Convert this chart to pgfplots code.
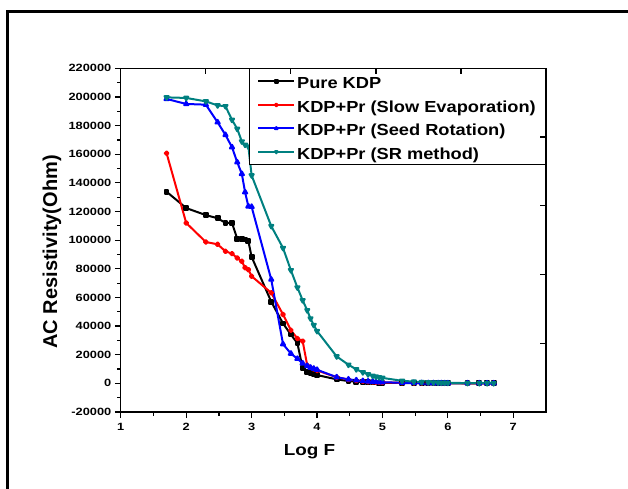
\documentclass[border=0pt]{standalone}
\usepackage{pgfplots}
\usepackage{pgfplotstable}
\pgfplotsset{compat=1.18}
\usepackage{graphicx}
\usepackage{fontspec}
\setmainfont{Liberation Sans}
\definecolor{tealc}{RGB}{0,128,128}
\newcommand{\tickfont}{\fontsize{10.5}{12}\selectfont\bfseries}
\newcommand{\legfont}{\fontsize{16}{19}\selectfont\bfseries}
\pgfplotstableread{
x     pure    se      srot    srm
1.7   133800  160700  198600  199700
2.0   122400  112000  195100  199300
2.3   117500  98700   194600  196900
2.48  115300  97100   182300  194100
2.6   112000  92200   173500  193500
2.7   112000  90600   164900  184000
2.78  101000  87500   154400  177700
2.85  100700  85200   146300  168900
2.9   100500  80800   133500  166600
2.95  99300   79400   123600  165400
3.0   88300   74800   123300  145200
3.3   57000   63200   72500   109800
3.48  41800   48100   27400   94500
3.6   34100   37100   20800   79000
3.7   28000   31300   17200   66900
3.78  10500   29500   14000   58000
3.85  8200    12600   12200   51000
3.9   7000    11000   11000   45300
3.95  6300    10000   10300   40700
4.0   5800    9000    9500    36500
4.3   2800    4300    4300    18800
4.48  1600    2600    2800    13000
4.6   1200    1900    2200    9800
4.7   900     1400    1700    7700
4.78  750     1100    1400    6300
4.85  650     950     1200    5300
4.9   550     850     1000    4700
4.95  480     750     900     4200
5.0   420     650     800     3800
5.3   250     350     400     1800
5.48  180     250     300     1200
5.6   150     200     250     900
5.7   120     170     200     700
5.78  100     150     180     600
5.85  90      130     160     500
5.9   80      120     150     450
5.95  75      110     140     400
6.0   70      100     130     350
6.3   50      70      100     200
6.48  40      55      90      150
6.6   35      50      85      120
6.7   30      45      80      100
}\datatable
\begin{document}
\begin{tikzpicture}[x=1pt,y=1pt]
\path[use as bounding box] (0,0) rectangle (628,488);
\draw[line width=3pt] (7.5,476) rectangle (720,-60);
\begin{axis}[
  at={(120.8pt,76pt)}, anchor=south west,
  scale only axis, width=425.2pt, height=343.7pt,
  xmin=1, xmax=7.5, ymin=-20000, ymax=220000,
  xtick={1,2,3,4,5,6,7}, ytick distance=20000,
  minor x tick num=1, minor y tick num=1,
  xtick pos=left, ytick pos=left, tick align=outside,
  major tick length=6pt, minor tick length=3.5pt,
  scaled y ticks=false, scaled x ticks=false,
  axis line style={line width=1.2pt},
  tick style={line width=1.2pt, black},
  yticklabel style={font=\tickfont},
  xticklabel style={font=\tickfont, yshift=-1.5pt},
  yticklabel={\scalebox{1.22}[1]{\pgfmathprintnumber[assume math mode=true,fixed,precision=0,1000 sep={}]{\tick}}},
  xticklabel={\scalebox{1.22}[1]{\pgfmathprintnumber[assume math mode=true]{\tick}}},
  ylabel={\fontsize{20}{24}\selectfont\bfseries AC Resistivity(Ohm)},
  ylabel style={at={(axis description cs:-0.162,0.466)}, anchor=center},
  xlabel={\scalebox{1.18}[1]{\fontsize{16}{19}\selectfont\bfseries Log F}},
  xlabel style={at={(axis description cs:0.444,-0.115)}, anchor=center},
  legend cell align=left,
  legend style={at={(rel axis cs:1,1)}, anchor=north east, draw=black, line width=0.8pt,
    inner xsep=8pt, inner ysep=1pt, font=\legfont,
    nodes={inner xsep=1.8pt, inner ysep=4.5pt, text height=14.5pt, text depth=0pt},
    row sep=0pt},
  legend image code/.code={\draw[mark repeat=2,mark phase=2,#1] plot coordinates {(0pt,0pt) (18pt,0pt) (36pt,0pt)};},
  legend image post style={mark size=1.4pt},
  every axis plot/.append style={line width=2pt, line join=round},
]
\addplot[black, mark=square*, mark size=1.9pt] table[x=x,y=pure] {\datatable};
\addlegendentry{\scalebox{1.14}[1]{Pure KDP}}
\addplot[red, mark=*, mark size=1.9pt] table[x=x,y=se] {\datatable};
\addlegendentry{\scalebox{1.14}[1]{KDP+Pr (Slow Evaporation)}}
\addplot[blue, mark=triangle*, mark size=2.4pt] table[x=x,y=srot] {\datatable};
\addlegendentry{\scalebox{1.14}[1]{KDP+Pr (Seed Rotation)}}
\addplot[tealc, mark=triangle*, mark size=2.4pt, mark options={rotate=180}] table[x=x,y=srm] {\datatable};
\addlegendentry{\scalebox{1.14}[1]{KDP+Pr (SR method)}}
\end{axis}
\begin{axis}[
  at={(120.8pt,76pt)}, anchor=south west,
  scale only axis, width=425.2pt, height=343.7pt,
  xmin=0, xmax=5, ymin=0, ymax=5,
  xtick={1,2,3,4}, ytick={1,2,3,4},
  xticklabels={}, yticklabels={},
  xtick pos=right, ytick pos=right, tick align=inside,
  major tick length=6pt,
  axis line style={line width=1.2pt},
  tick style={line width=1.2pt, black},
]
\end{axis}
\end{tikzpicture}
\end{document}
